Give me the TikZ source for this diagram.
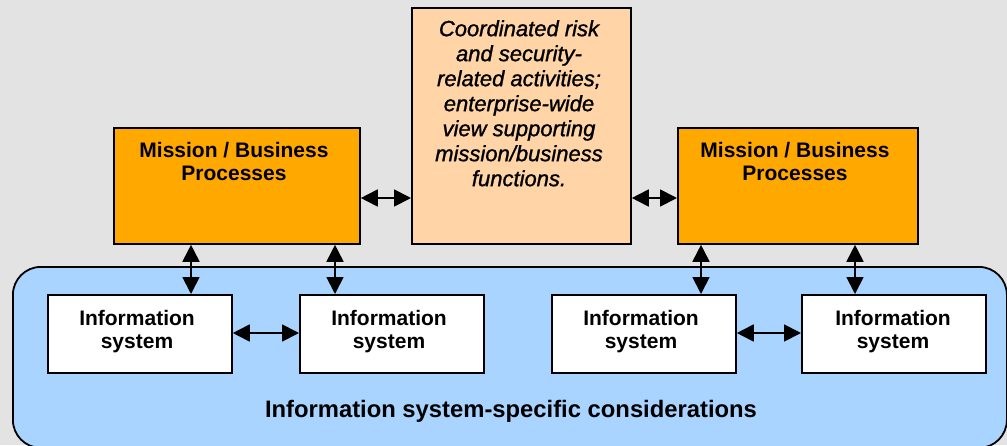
\documentclass[tikz,border=0pt]{standalone}
\usepackage{fontspec}
\setmainfont{Liberation Sans}
\newfontfamily\riskfont[FakeBold=1.2]{Liberation Sans}
\usetikzlibrary{arrows.meta}
\definecolor{canvas}{HTML}{E3E3E3}
\definecolor{procfill}{HTML}{FFA800}
\definecolor{riskfill}{HTML}{FFD5A8}
\definecolor{sysregion}{HTML}{A8D4FF}
\begin{document}
\begin{tikzpicture}[x=1pt,y=-1pt,
  boxbase/.style={draw=black, line width=1.8pt, inner sep=0pt, anchor=north west},
  procbox/.style={boxbase, fill=procfill, minimum width=246pt, minimum height=116pt},
  riskbox/.style={boxbase, fill=riskfill, minimum width=219pt, minimum height=236pt},
  sysbox/.style={boxbase, fill=white, minimum width=184pt, minimum height=78pt},
  region/.style={draw=black, line width=1.8pt, fill=sysregion, rounded corners=28pt,
    inner sep=0pt, anchor=north west, minimum width=994pt, minimum height=181pt},
  boldtxt/.style={inner sep=0pt, anchor=north, align=center,
    font=\fontsize{21}{23.5}\selectfont\bfseries},
  italtxt/.style={inner sep=0pt, anchor=north, align=center,
    font=\riskfont\fontsize{22}{25}\selectfont\itshape},
  link/.style={line width=1.8pt, {Triangle[length=17pt,width=17pt]}-{Triangle[length=17pt,width=17pt]}}]
\useasboundingbox (0,0) rectangle (1007,445);
\fill[canvas] (0,0) rectangle (1007,445);

% system-specific region
\node[region] (region) at (12,266) {};
\node[boldtxt, font=\fontsize{23.8}{26}\selectfont\bfseries] (regiontxt) at (511,400) {Information system-specific considerations};

% mission / business process boxes and the coordination box
\node[procbox] (procL) at (113,127) {};
\node[boldtxt] (procLtxt) at (234,142) {Mission / Business\\Processes};
\node[procbox, minimum width=240pt] (procR) at (677,127) {};
\node[boldtxt] (procRtxt) at (795,142) {Mission / Business\\Processes};
\node[riskbox] (risk) at (411,7) {};
\node[italtxt] (risktxt) at (519,20) {Coordinated risk\\and security-\\related activities;\\enterprise-wide\\view supporting\\mission/business\\functions.};

% information systems
\node[sysbox] (sysA) at (47,294) {};
\node[sysbox] (sysB) at (299,294) {};
\node[sysbox] (sysC) at (551,294) {};
\node[sysbox] (sysD) at (801,294) {};
\foreach \s/\cx in {sysA/137, sysB/389, sysC/641, sysD/893}
  \node[boldtxt] (\s txt) at (\cx,310) {Information\\system};

% connector positions
\coordinate (vA) at (191,0);
\coordinate (vB) at (335,0);
\coordinate (vC) at (701,0);
\coordinate (vD) at (855,0);
\coordinate (hTop) at (0,198);
\coordinate (hSys) at (0,333);

% links
\draw[link] (procL.south -| vA) -- (sysA.north -| vA);
\draw[link] (procL.south -| vB) -- (sysB.north -| vB);
\draw[link] (procR.south -| vC) -- (sysC.north -| vC);
\draw[link] (procR.south -| vD) -- (sysD.north -| vD);
\draw[link] (procL.east |- hTop) -- (risk.west |- hTop);
\draw[link] (risk.east |- hTop) -- (procR.west |- hTop);
\draw[link] (sysA.east |- hSys) -- (sysB.west |- hSys);
\draw[link] (sysC.east |- hSys) -- (sysD.west |- hSys);
\end{tikzpicture}
\end{document}
